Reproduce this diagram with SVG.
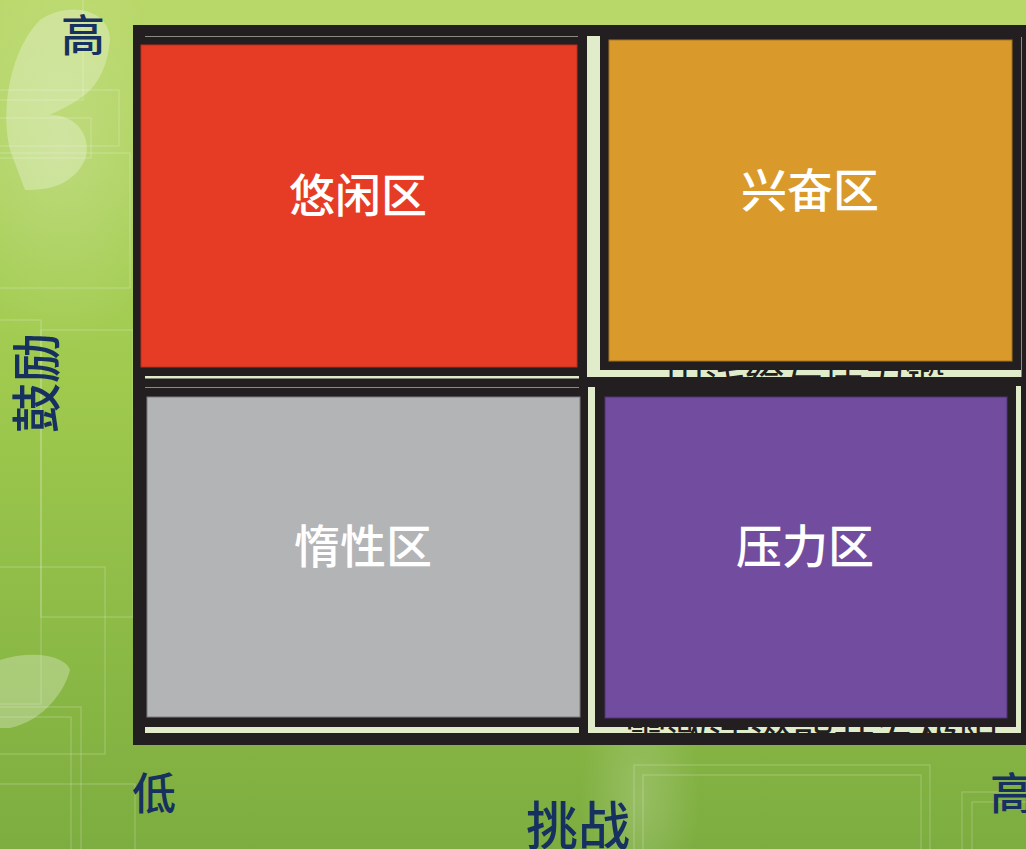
<svg xmlns="http://www.w3.org/2000/svg" width="1026" height="849" viewBox="0 0 1026 849">
  <defs>
    <linearGradient id="bg" x1="0" y1="0" x2="0" y2="1">
      <stop offset="0" stop-color="#b9d86a"/>
      <stop offset="0.45" stop-color="#9fca4e"/>
      <stop offset="1" stop-color="#7dad40"/>
    </linearGradient>
    <radialGradient id="glow" cx="0.5" cy="0.5" r="0.5">
      <stop offset="0" stop-color="#ffffff" stop-opacity="0.18"/>
      <stop offset="1" stop-color="#ffffff" stop-opacity="0"/>
    </radialGradient>
    <clipPath id="inside">
      <rect x="133" y="25" width="893" height="719"/>
    </clipPath>
    <style>
      .frame { fill: #231f20; }
      .pale { fill: #e1ecca; }
      .hair { fill: #8a8c80; }
      .deco { fill: none; stroke: #ffffff; stroke-opacity: 0.25; stroke-width: 1; }
      .wing { fill: #ffffff; fill-opacity: 0.28; }
      .zone { font-family: "Noto Sans CJK SC", "Noto Sans", sans-serif; font-size: 46px; font-weight: 500; fill: #ffffff; text-anchor: middle; }
      .axis { font-family: "Noto Sans CJK SC", "Noto Sans", sans-serif; font-weight: 500; fill: #16305f; text-anchor: middle; }
      .under { font-family: "Noto Sans CJK SC", "Noto Sans", sans-serif; fill: #231f20; }
    </style>
  </defs>

  <!-- background -->
  <rect width="1026" height="849" fill="url(#bg)"/>
  <ellipse cx="60" cy="150" rx="120" ry="200" fill="url(#glow)"/>
  <ellipse cx="640" cy="800" rx="60" ry="120" fill="url(#glow)"/>
  <path class="wing" d="M40,20 C70,0 110,10 110,40 C105,90 80,100 50,115 C80,115 92,140 85,160 C70,190 40,190 25,190 L10,150 C0,110 10,50 40,20 Z"/>
  <path class="wing" d="M0,660 C30,650 65,655 70,670 C65,690 45,720 10,728 L0,728 Z"/>
  <g class="deco">
    <rect x="-10" y="-10" width="93" height="110"/>
    <rect x="-10" y="90" width="129" height="56"/>
    <rect x="-10" y="118" width="101" height="40"/>
    <rect x="-10" y="153" width="140" height="135"/>
    <rect x="-10" y="320" width="51" height="384"/>
    <rect x="41" y="330" width="92" height="287"/>
    <rect x="-10" y="567" width="115" height="187"/>
    <rect x="-10" y="707" width="91" height="200"/>
    <rect x="-10" y="717" width="81" height="200"/>
    <rect x="-10" y="784" width="145" height="100"/>
    <rect x="634" y="765" width="296" height="120"/>
    <rect x="643" y="775" width="278" height="110"/>
    <rect x="962" y="792" width="80" height="80"/>
    <rect x="972" y="802" width="70" height="70"/>
  </g>

  <!-- outer frame -->
  <rect class="frame" x="133" y="25" width="900" height="720"/>

  <!-- light separator strips -->
  <g id="strips">
    <rect class="hair" x="145" y="36" width="433" height="1"/>
    <rect class="pale" x="145" y="376" width="434" height="2.5"/>
    <rect class="hair" x="145" y="387" width="434" height="1"/>
    <rect class="pale" x="145" y="727" width="434" height="6"/>
    <rect class="pale" x="587" y="36" width="13" height="341"/>
    <rect class="pale" x="587" y="370" width="434" height="7"/>
    <rect class="hair" x="1021" y="37" width="1" height="340"/>
    <rect class="pale" x="588" y="387" width="7" height="346"/>
    <rect class="pale" x="1016" y="386" width="5" height="347"/>
    <rect class="pale" x="588" y="727" width="433" height="6"/>
  </g>

  <!-- captions partly covered by the quadrants -->
  <g clip-path="url(#inside)">
    <text class="under" x="665" y="393" font-size="40" textLength="280" lengthAdjust="spacingAndGlyphs">由浅给与压力锻</text>
    <text class="under" x="625" y="750" font-size="42" textLength="375" lengthAdjust="spacingAndGlyphs">需激活潜能开发极限</text>
  </g>

  <!-- quadrants -->
  <g id="leisure">
    <rect class="frame" x="133" y="37" width="452" height="339"/>
    <rect x="141" y="45" width="436" height="322" fill="#e63c26" stroke="#b8301f" stroke-width="1"/>
    <text class="zone" x="358" y="212">悠闲区</text>
  </g>
  <g id="excited">
    <rect class="frame" x="600" y="30" width="421" height="340"/>
    <rect x="609" y="40" width="403" height="321" fill="#d99a2b" stroke="#a8741e" stroke-width="1"/>
    <text class="zone" x="810" y="207">兴奋区</text>
  </g>
  <g id="inert">
    <rect class="frame" x="133" y="389" width="455" height="338"/>
    <rect x="147" y="397" width="433" height="320" fill="#b3b4b6" stroke="#7c7d80" stroke-width="1"/>
    <text class="zone" x="363" y="563">惰性区</text>
  </g>
  <g id="pressure">
    <rect class="frame" x="595" y="387" width="421" height="340"/>
    <rect x="605" y="397" width="402" height="321" fill="#724d9f" stroke="#4e3570" stroke-width="1"/>
    <text class="zone" x="805" y="563">压力区</text>
  </g>

  <!-- axis labels -->
  <g id="axes">
    <text class="axis" x="83" y="52" font-size="44">高</text>
    <text class="axis" x="0" y="0" font-size="50" transform="translate(55,383) rotate(-90)">鼓励</text>
    <text class="axis" x="154" y="810" font-size="44">低</text>
    <text class="axis" x="578" y="845" font-size="52">挑战</text>
    <text class="axis" x="1012" y="810" font-size="44">高</text>
  </g>
</svg>
